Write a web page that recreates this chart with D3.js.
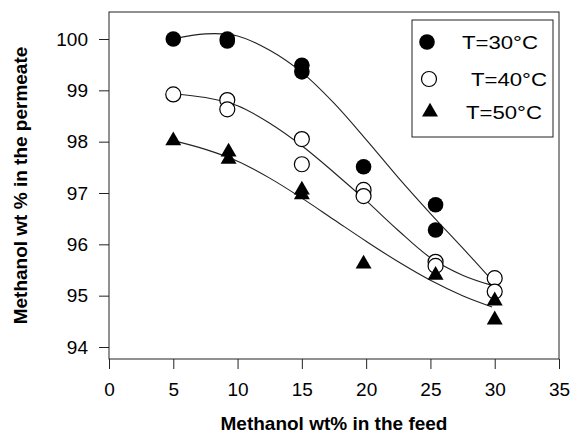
<!DOCTYPE html>
<html>
<head>
<meta charset="utf-8">
<script src="https://cdn.jsdelivr.net/npm/d3@7"></script>
<style>
  body { margin: 0; background: #fff; }
  text { font-family: Arial, "Liberation Sans", sans-serif; fill: #000; }
</style>
</head>
<body>
<div id="chart"></div>
<script>
var feed30 = [5, 9.2, 9.2, 15, 15, 19.8, 25.4, 25.4];
var perm30 = [100.0, 100.0, 99.96, 99.49, 99.36, 97.51, 96.77, 96.28];

var feed40 = [5, 9.2, 9.2, 15, 15, 19.8, 19.8, 25.4, 25.4, 30, 30];
var perm40 = [98.92, 98.81, 98.63, 98.05, 97.56, 97.06, 96.94, 95.66, 95.58, 95.34, 95.08];

var feed50 = [5, 9.3, 9.3, 15, 15, 19.8, 25.4, 30, 30];
var perm50 = [98.02, 97.8, 97.66, 97.06, 96.97, 95.62, 95.4, 94.9, 94.53];

// fitted curves
var fitX = [5, 7.5, 10, 12.5, 15, 17.5, 20, 22.5, 25, 27.5, 29.8];
var fitY30 = [100.0, 100.1, 100.06, 99.78, 99.35, 98.75, 98.04, 97.3, 96.6, 95.93, 95.3];
var fitY40 = [98.93, 98.86, 98.7, 98.36, 97.92, 97.4, 96.85, 96.27, 95.74, 95.4, 95.2];
var fitY50 = [98.02, 97.85, 97.62, 97.29, 96.9, 96.48, 96.06, 95.66, 95.3, 95.0, 94.78];

var xTicks = [0, 5, 10, 15, 20, 25, 30, 35];
var yTicks = [94, 95, 96, 97, 98, 99, 100];
var legendLabels = ["T=30°C", "T=40°C", "T=50°C"];

var width = 572, height = 434;
var plotLeft = 109, plotRight = 559, plotTop = 12, plotBottom = 359;

var svg = d3.select("#chart").append("svg")
    .attr("width", width)
    .attr("height", height);

svg.append("rect").attr("width", width).attr("height", height).attr("fill", "#fff");

var x_scale = d3.scaleLinear().domain([0, 35]).range([plotLeft, plotRight]);
// 94 sits at 347, 100 at 39; frame runs a bit past both
var y_scale = d3.scaleLinear().domain([94, 100]).range([347, 39]);

// frame
svg.append("rect")
    .attr("x", plotLeft).attr("y", plotTop)
    .attr("width", plotRight - plotLeft).attr("height", plotBottom - plotTop)
    .attr("fill", "none").attr("stroke", "#222").attr("stroke-width", 1);

// x axis
var xAxis = svg.append("g")
    .attr("transform", "translate(0," + plotBottom + ")")
    .call(d3.axisBottom(x_scale).tickValues(xTicks).tickSize(10).tickPadding(14).tickSizeOuter(0));
xAxis.select(".domain").remove();
xAxis.selectAll("line").attr("stroke", "#222");
xAxis.selectAll("text").style("font-size", "19px").attr("font-family", null);

// y axis
var yAxis = svg.append("g")
    .attr("transform", "translate(" + plotLeft + ",0)")
    .call(d3.axisLeft(y_scale).tickValues(yTicks).tickFormat(d3.format("d"))
        .tickSize(10).tickPadding(11).tickSizeOuter(0));
yAxis.select(".domain").remove();
yAxis.selectAll("line").attr("stroke", "#222");
yAxis.selectAll("text").style("font-size", "19px").attr("font-family", null);

// axis titles
svg.append("text")
    .attr("x", (plotLeft + plotRight) / 2)
    .attr("y", 430)
    .attr("text-anchor", "middle")
    .style("font-size", "19px")
    .style("font-weight", "bold")
    .text("Methanol wt% in the feed");

svg.append("text")
    .attr("text-anchor", "middle")
    .attr("transform", "translate(27," + ((plotTop + plotBottom) / 2) + ")rotate(-90)")
    .style("font-size", "19px")
    .style("font-weight", "bold")
    .text("Methanol wt % in the permeate");

// fitted lines
var line = d3.line()
    .x(function(d) { return x_scale(d[0]); })
    .y(function(d) { return y_scale(d[1]); })
    .curve(d3.curveCatmullRom);

[fitY30, fitY40, fitY50].forEach(function(ys) {
    svg.append("path")
        .datum(d3.zip(fitX, ys))
        .attr("d", line)
        .attr("fill", "none")
        .attr("stroke", "#222")
        .attr("stroke-width", 1.1);
});

var tri = d3.symbol().type(d3.symbolTriangle).size(110);

// markers
svg.selectAll(".p40")
    .data(d3.zip(feed40, perm40))
    .enter().append("circle")
    .attr("cx", function(d) { return x_scale(d[0]); })
    .attr("cy", function(d) { return y_scale(d[1]); })
    .attr("r", 7.5)
    .attr("fill", "#fff")
    .attr("stroke", "#000")
    .attr("stroke-width", 1.2);

svg.selectAll(".p30")
    .data(d3.zip(feed30, perm30))
    .enter().append("circle")
    .attr("cx", function(d) { return x_scale(d[0]); })
    .attr("cy", function(d) { return y_scale(d[1]); })
    .attr("r", 7.8)
    .attr("fill", "#000");

svg.selectAll(".p50")
    .data(d3.zip(feed50, perm50))
    .enter().append("path")
    .attr("d", tri)
    .attr("transform", function(d) {
        return "translate(" + x_scale(d[0]) + "," + y_scale(d[1]) + ")";
    })
    .attr("fill", "#000");

// legend
var legend = svg.append("g").attr("transform", "translate(412,20)");
legend.append("rect")
    .attr("width", 141).attr("height", 117)
    .attr("fill", "#fff").attr("stroke", "#222").attr("stroke-width", 1);

var rowY = [22, 59, 92];
legend.append("circle").attr("cx", 15).attr("cy", rowY[0]).attr("r", 7.8).attr("fill", "#000");
legend.append("circle").attr("cx", 17).attr("cy", rowY[1]).attr("r", 7.5)
    .attr("fill", "#fff").attr("stroke", "#000").attr("stroke-width", 1.2);
legend.append("path").attr("d", tri).attr("transform", "translate(18," + rowY[2] + ")").attr("fill", "#000");

legend.selectAll(".lt")
    .data(legendLabels)
    .enter().append("text")
    .attr("x", function(d, i) { return [50, 59, 54][i]; })
    .attr("y", function(d, i) { return rowY[i] + 7; })
    .attr("textLength", 76)
    .attr("lengthAdjust", "spacingAndGlyphs")
    .style("font-size", "18px")
    .text(function(d) { return d; });
</script>
</body>
</html>
